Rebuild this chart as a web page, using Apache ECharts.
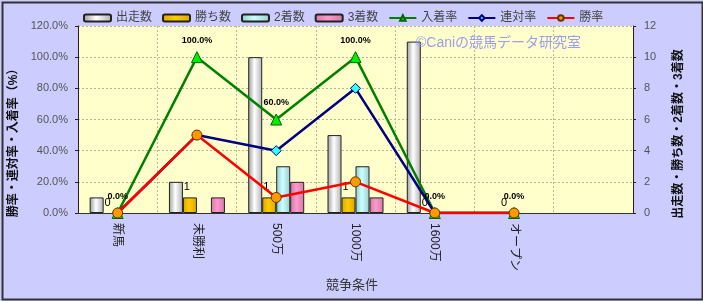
<!DOCTYPE html>
<html><head><meta charset="utf-8">
<script src="https://cdn.jsdelivr.net/npm/echarts@6/dist/echarts.min.js"></script>
<style>html,body{margin:0;padding:0;background:#fff}#c{width:703px;height:301px}</style>
</head><body><div id="c"></div>
<script>
var categories = ['新馬','未勝利','500万','1000万','1600万','オープン',''];
var runs   = [1, 2, 10, 5, 11, 0, null];
var wins   = [0, 1, 1, 1, 0, 0, null];
var second = [0, 0, 3, 3, 0, 0, null];
var third  = [0, 1, 2, 1, 0, 0, null];
var placeRate = [0, 100, 60, 100, 0, 0, null];
var quinRate  = [0, 50, 40, 80, 0, 0, null];
var winRate   = [0, 50, 10, 20, 0, 0, null];
var leftTicks = [0, 20, 40, 60, 80, 100, 120];
var rightTicks = [0, 2, 4, 6, 8, 10, 12];

var FONT = '"Liberation Sans","Noto Sans CJK JP",sans-serif';
function grad(a, b, c) {
  return new echarts.graphic.LinearGradient(0, 0, 1, 0, [
    {offset: 0, color: a}, {offset: 0.45, color: b}, {offset: 1, color: c}]);
}
function items(arr) {
  return arr.map(function (v) {
    if (v === 0) return {value: 0, itemStyle: {borderWidth: 0, opacity: 0}};
    return v;
  });
}
var chart = echarts.init(document.getElementById('c'), null, {renderer: 'canvas'});
function barSeries(name, data, fill, label) {
  var s = {
    name: name, type: 'bar', yAxisIndex: 1, data: items(data),
    barWidth: 14, barGap: '0%',
    itemStyle: {color: fill, borderColor: '#222', borderWidth: 1},
    emphasis: {disabled: true}
  };
  if (label) {
    s.label = {show: true, position: 'top', distance: 5, offset: [-3, 0],
      color: '#000', fontSize: 11, fontFamily: FONT, opacity: 1};
  }
  return s;
}
chart.setOption({
  animation: false,
  backgroundColor: '#CCCCFF',
  textStyle: {fontFamily: FONT},
  legend: {
    left: 83, top: 12, padding: 0, itemWidth: 27, itemHeight: 7, itemGap: 10,
    textStyle: {fontSize: 12, color: '#444', fontFamily: FONT},
    data: ['出走数','勝ち数','2着数','3着数','入着率','連対率','勝率']
  },
  grid: {left: 78, right: 70, top: 26, bottom: 88, show: true,
    backgroundColor: '#FFFFCC', borderWidth: 0},
  xAxis: {
    type: 'category', data: categories,
    axisLine: {lineStyle: {color: '#333', width: 1}},
    axisTick: {show: false},
    splitLine: {show: true, lineStyle: {color: '#b5b5a0', type: [2, 2], width: 1}},
    axisLabel: {rotate: -90, margin: 10, fontSize: 12, color: '#222', fontFamily: FONT, interval: 0}
  },
  yAxis: [{
    type: 'value', min: leftTicks[0], max: leftTicks[leftTicks.length - 1], interval: 20,
    position: 'left',
    axisLine: {show: true, lineStyle: {color: '#222'}},
    axisTick: {show: true, length: 3, lineStyle: {color: '#222'}},
    splitLine: {show: true, lineStyle: {color: '#b5b5a0', type: [2, 2], width: 1}},
    axisLabel: {formatter: function (v) { return v.toFixed(1) + '%'; },
      fontSize: 11, color: '#555', margin: 10, fontFamily: FONT}
  }, {
    type: 'value', min: rightTicks[0], max: rightTicks[rightTicks.length - 1], interval: 2,
    position: 'right',
    axisLine: {show: true, lineStyle: {color: '#222'}},
    axisTick: {show: true, length: 3, lineStyle: {color: '#222'}},
    splitLine: {show: false},
    axisLabel: {fontSize: 11, color: '#555', margin: 11, fontFamily: FONT}
  }],
  series: [
    barSeries('出走数', runs, grad('#9a9a9a', '#ffffff', '#b0b0b0')),
    barSeries('勝ち数', wins, grad('#d9a800', '#ffcc00', '#d9a800'), true),
    barSeries('2着数', second, grad('#8fcccc', '#ccffff', '#99cccc')),
    barSeries('3着数', third, grad('#d07aa5', '#ff99cc', '#d07aa5')),
    {name: '入着率', type: 'line', yAxisIndex: 0, data: placeRate,
      lineStyle: {color: '#008000', width: 2.5},
      symbol: 'triangle', symbolSize: 11,
      itemStyle: {color: '#00ee00', borderColor: '#006600', borderWidth: 1},
      label: {show: true, position: 'top', distance: 6,
        formatter: function (p) { return p.value.toFixed(1) + '%'; },
        fontSize: 9, fontWeight: 'bold', color: '#000', fontFamily: FONT},
      emphasis: {disabled: true}},
    {name: '連対率', type: 'line', yAxisIndex: 0, data: quinRate,
      lineStyle: {color: '#000080', width: 2.5},
      symbol: 'diamond', symbolSize: 10,
      itemStyle: {color: '#33ffff', borderColor: '#000080', borderWidth: 1},
      emphasis: {disabled: true}},
    {name: '勝率', type: 'line', yAxisIndex: 0, data: winRate,
      lineStyle: {color: '#ff0000', width: 2.5},
      symbol: 'circle', symbolSize: 10,
      itemStyle: {color: '#ff9900', borderColor: '#663300', borderWidth: 1},
      emphasis: {disabled: true}}
  ],
  graphic: [
    {type: 'rect', left: 0, top: 0, z: 100, silent: true,
      shape: {x: 1, y: 1, width: 700, height: 297},
      style: {fill: 'none', stroke: '#333', lineWidth: 2}},
    {type: 'text', x: 416, y: 43, z: 50, silent: true,
      style: {text: '©Caniの競馬データ研究室', fill: '#9c9cf0', fontSize: 14,
        fontFamily: FONT, align: 'left', verticalAlign: 'middle'}},
    {type: 'text', x: 14, y: 140, rotation: Math.PI / 2, silent: true,
      style: {text: '勝率・連対率・入着率（%）', fill: '#111', fontSize: 12, fontWeight: 'bold',
        fontFamily: FONT, align: 'center', verticalAlign: 'middle'}},
    {type: 'text', x: 679, y: 134, rotation: Math.PI / 2, silent: true,
      style: {text: '出走数・勝ち数・2着数・3着数', fill: '#111', fontSize: 12, fontWeight: 'bold',
        fontFamily: FONT, align: 'center', verticalAlign: 'middle'}},
    {type: 'text', x: 352, y: 285, silent: true,
      style: {text: '競争条件', fill: '#333', fontSize: 13,
        fontFamily: FONT, align: 'center', verticalAlign: 'middle'}}
  ]
});
</script></body></html>
